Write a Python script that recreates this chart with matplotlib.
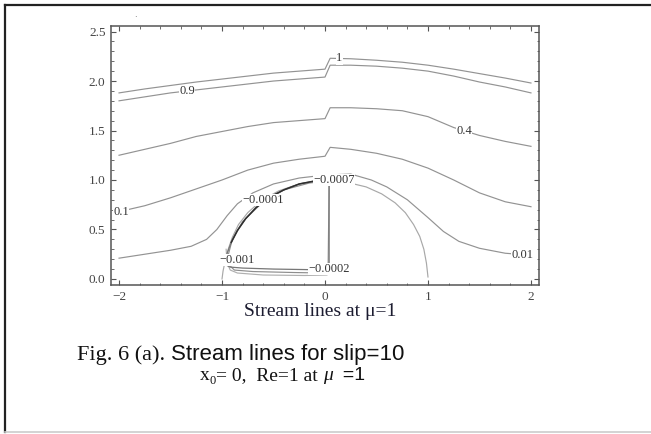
import matplotlib
matplotlib.use("Agg")
import matplotlib.pyplot as plt
from matplotlib.lines import Line2D
from matplotlib.ticker import MultipleLocator

# Stromlinien psi = 1, 0.9, 0.4, 0.1, 0.01 als (x, y)-Stuetzpunkte
X_STREAM = [-2.0, -1.75, -1.5, -1.25, -1.0, -0.75, -0.5, -0.25, 0.0,
            0.05, 0.25, 0.5, 0.75, 1.0, 1.25, 1.5, 1.75, 2.0]
PSI_1_Y = [1.88, 1.92, 1.955, 1.99, 2.02, 2.05, 2.08, 2.10, 2.12,
           2.23, 2.225, 2.21, 2.19, 2.16, 2.12, 2.075, 2.03, 1.98]
PSI_09_Y = [1.80, 1.84, 1.88, 1.91, 1.94, 1.97, 2.00, 2.02, 2.04,
            2.16, 2.16, 2.15, 2.13, 2.10, 2.05, 1.99, 1.94, 1.88]
PSI_04_Y = [1.25, 1.31, 1.37, 1.44, 1.49, 1.54, 1.58, 1.60, 1.62,
            1.73, 1.73, 1.72, 1.70, 1.64, 1.53, 1.45, 1.39, 1.34]
PSI_01_Y = [0.68, 0.74, 0.82, 0.91, 1.00, 1.10, 1.17, 1.21, 1.24,
            1.33, 1.31, 1.27, 1.21, 1.12, 1.00, 0.87, 0.78, 0.73]

PSI_001_X = [-2.0, -1.75, -1.5, -1.3, -1.15, -1.05, -0.95, -0.85, -0.7, -0.5, -0.25,
             0.0, 0.25, 0.45, 0.6, 0.8, 1.0, 1.15, 1.3, 1.5, 1.75, 2.0]
PSI_001_Y = [0.21, 0.25, 0.29, 0.33, 0.40, 0.50, 0.64, 0.76, 0.87, 0.96, 1.02,
             1.05, 1.06, 1.00, 0.93, 0.80, 0.62, 0.48, 0.38, 0.31, 0.26, 0.24]

# Trennstromlinie um die Kugel
SEP_X = [-1.0, -0.99, -0.97, -0.94, -0.90, -0.84, -0.75, -0.62, -0.45, -0.25, 0.0,
         0.2, 0.4, 0.55, 0.68, 0.78, 0.86, 0.92, 0.96, 0.985, 1.0]
SEP_Y = [0.0, 0.08, 0.18, 0.30, 0.42, 0.55, 0.67, 0.79, 0.89, 0.96, 1.0,
         0.98, 0.93, 0.86, 0.77, 0.67, 0.55, 0.43, 0.30, 0.16, 0.02]

# Wirbelgebiet hinter der Kugel (negative psi)
VORT_A_X = [0.04, -0.1, -0.25, -0.4, -0.55, -0.67, -0.77, -0.85, -0.91, -0.95, -0.97,
            -0.96, -0.92, -0.8, -0.5, -0.2, 0.0, 0.04, 0.04]
VORT_A_Y = [1.0, 0.99, 0.96, 0.90, 0.82, 0.72, 0.61, 0.49, 0.37, 0.26, 0.18,
            0.14, 0.12, 0.11, 0.10, 0.095, 0.09, 0.11, 1.0]

VORT_B_X = [0.04, -0.15, -0.40, -0.62, -0.80, -0.90, -0.94, -0.93, -0.88, -0.70, -0.30, 0.0, 0.03, 0.04]
VORT_B_Y = [0.99, 0.97, 0.90, 0.76, 0.58, 0.40, 0.24, 0.14, 0.09, 0.075, 0.065, 0.06, 0.08, 0.99]

VORT_C_X = [-0.96, -0.95, -0.92, -0.85, -0.6, -0.2, 0.02, 0.03]
VORT_C_Y = [0.30, 0.16, 0.09, 0.06, 0.04, 0.035, 0.04, 0.07]

LABEL_TEXT = ["1", "0.9", "0.4", "0.1", "0.01", "\u22120.0007", "\u22120.0001", "\u22120.001", "\u22120.0002"]
LABEL_X = [0.14, -1.34, 1.35, -1.98, 1.92, 0.09, -0.60, -0.85, 0.04]
LABEL_Y = [2.23, 1.90, 1.50, 0.68, 0.24, 1.00, 0.80, 0.19, 0.10]

X_TICKS = [-2, -1, 0, 1, 2]
Y_TICKS = [0.0, 0.5, 1.0, 1.5, 2.0, 2.5]

W, H = 651, 434
fig = plt.figure(figsize=(W / 100, H / 100), dpi=100)
fig.patch.set_facecolor("white")

ax = fig.add_axes([111 / W, 1 - 285 / H, (539 - 111) / W, (285 - 26) / H])
ax.set_xlim(-2.078, 2.078)
ax.set_ylim(-0.061, 2.556)

grau = "#939393"
for ys in (PSI_1_Y, PSI_09_Y, PSI_04_Y, PSI_01_Y):
    ax.plot(X_STREAM, ys, color=grau, lw=0.85)
ax.plot(PSI_001_X, PSI_001_Y, color=grau, lw=0.85)
ax.plot(SEP_X, SEP_Y, color="#a8a8a8", lw=0.85)
ax.plot(VORT_C_X, VORT_C_Y, color="#b0b0b0", lw=0.85)
ax.plot(VORT_B_X, VORT_B_Y, color="#8e8e8e", lw=0.85)
ax.plot(VORT_A_X, VORT_A_Y, color="#777777", lw=0.9)
# dunkler oberer Bogen des Wirbels
ax.plot(VORT_A_X[:9], VORT_A_Y[:9], color="#2e2e2e", lw=1.1)

for s, x, y in zip(LABEL_TEXT, LABEL_X, LABEL_Y):
    ax.text(x, y, s, ha="center", va="center", fontsize=9, color="#333333",
            family="Liberation Serif",
            bbox=dict(facecolor="white", edgecolor="none", pad=0.2))

ax.set_xticks(X_TICKS)
ax.set_xticklabels([f"{v:d}".replace("-", "\u2212") for v in X_TICKS])
ax.set_yticks(Y_TICKS)
ax.set_yticklabels([f"{v:.1f}" for v in Y_TICKS])
ax.xaxis.set_minor_locator(MultipleLocator(0.2))
ax.yaxis.set_minor_locator(MultipleLocator(0.1))
ax.tick_params(which="both", direction="in", top=True, right=True, color="#555555")
ax.tick_params(which="major", length=3.5, width=0.8, labelsize=9.5, labelcolor="#444444", pad=4)
ax.tick_params(which="minor", length=1.8, width=0.6)
for lab in ax.get_xticklabels() + ax.get_yticklabels():
    lab.set_family("Liberation Serif")
for sp in ax.spines.values():
    sp.set_color("#555555")
    sp.set_linewidth(1.1)

# Rahmen der Abbildung
fig.add_artist(Line2D([5 / W, 5 / W], [1 - 5 / H, 1 - 432 / H], color="#222222", lw=1.6))
fig.add_artist(Line2D([5 / W, 1.0], [1 - 5 / H, 1 - 5 / H], color="#222222", lw=1.6))
fig.add_artist(Line2D([5 / W, 1.0], [1 - 432 / H, 1 - 432 / H], color="#cccccc", lw=1.2))
fig.text(134 / W, 1 - 17 / H, ".", fontsize=6, color="#555555")

fig.text(320 / W, 1 - 312 / H, "Stream lines at \u03bc=1", ha="center", va="center",
         fontsize=14, family="Liberation Serif", color="#1c1c30")

renderer = fig.canvas.get_renderer()


def zeile(x0, y, teile):
    x = x0
    for s, kw in teile:
        dy = kw.get("dy", 0)
        opts = {k: v for k, v in kw.items() if k != "dy"}
        t = fig.text(x, y + dy / H, s, va="baseline", color="#111111", **opts)
        x += t.get_window_extent(renderer).width / W


serif = dict(family="Liberation Serif", fontsize=16)
sans = dict(family="Liberation Sans", fontsize=16)
zeile(77 / W, 1 - 360 / H, [("Fig. 6 (a). ", serif), ("Stream lines for slip=10", sans)])

serif2 = dict(family="Liberation Serif", fontsize=14)
zeile(200 / W, 1 - 380 / H, [
    ("x", serif2),
    ("0", dict(family="Liberation Serif", fontsize=9, dy=-4)),
    ("= 0,  Re=1 at ", serif2),
    ("\u03bc", dict(family="Liberation Serif", fontsize=14, style="italic")),
    ("  =1", dict(family="Liberation Sans", fontsize=14)),
])

fig.savefig("out.png", dpi=100, facecolor="white")
